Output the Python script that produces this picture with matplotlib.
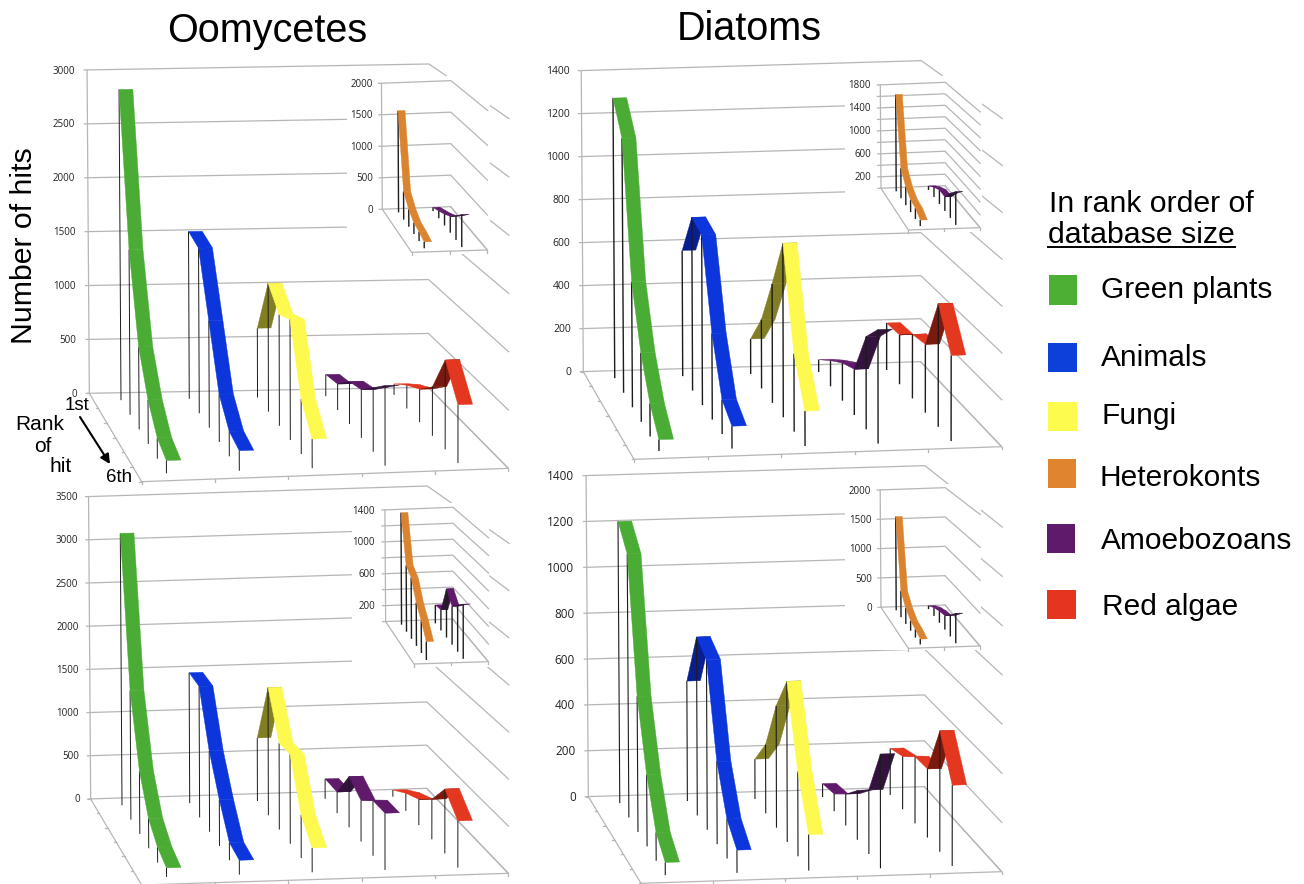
import matplotlib
matplotlib.use('Agg')
import matplotlib.pyplot as plt
from matplotlib.patches import Polygon, Rectangle

plt.rcParams['font.family'] = ['Liberation Sans', 'DejaVu Sans']

ranks = [0.5, 1.5, 2.5, 3.5, 4.5, 5.5]

# top left, oomycetes
a_green = [2863, 1501, 739, 390, 181, 110]
a_blue = [1542, 1501, 958, 423, 219, 173]
a_yellow = [639, 1167, 997, 1067, 481, 251]
a_purple = [200, 237, 380, 426, 560, 692]
a_red = [101, 212, 296, 434, 782, 504]
a_inset_orange = [1599, 433, 263, 164, 137, 92]
a_inset_purple = [58, 113, 172, 244, 353, 472]

# top right, diatoms
b_green = [1293, 1157, 562, 305, 144, 49]
b_blue = [580, 788, 762, 381, 150, 96]
b_yellow = [162, 314, 534, 769, 340, 150]
b_purple = [57, 117, 169, 202, 404, 490]
b_red = [217, 224, 287, 302, 537, 368]
b_inset_orange = [1668, 507, 304, 201, 176, 94]
b_inset_purple = [69, 163, 232, 228, 394, 523]

# bottom left, oomycetes
c_green = [3124, 1461, 700, 326, 166, 96]
c_blue = [1499, 1484, 901, 510, 192, 153]
c_yellow = [724, 1446, 964, 983, 467, 260]
c_purple = [230, 238, 566, 451, 597, 606]
c_red = [77, 200, 287, 440, 698, 499]
c_inset_orange = [1391, 809, 731, 511, 371, 209]
c_inset_purple = [228, 252, 583, 452, 541, 623]

# bottom right, diatoms
d_green = [1221, 1128, 574, 300, 117, 52]
d_blue = [520, 764, 720, 346, 163, 93]
d_yellow = [173, 295, 516, 672, 351, 147]
d_purple = [58, 74, 133, 206, 266, 467]
d_red = [202, 226, 282, 287, 500, 330]
d_inset_orange = [1580, 430, 260, 159, 130, 82]
d_inset_purple = [56, 138, 189, 223, 334, 461]

legend_names = ['Green plants', 'Animals', 'Fungi', 'Heterokonts', 'Amoebozoans', 'Red algae']

GREEN = ('#4aac34', '#4aac34')
BLUE = ('#0c36dc', '#0a1f8f')
YELLOW = ('#fdf94e', '#827e24')
ORANGE = ('#db832f', '#8a5020')
PURPLE = ('#5f1a6b', '#33123d')
RED = ('#e4371f', '#7a1a0e')

main_colors = [GREEN, BLUE, YELLOW, PURPLE, RED]
inset_colors = [ORANGE, PURPLE]
legend_colors = ['#4bb034', '#0d3fd9', '#fdfb4e', '#e08430', '#5f1a6b', '#e6351f']
GRID = '#b6b6b6'


def lerp(p, q, t):
    return (p[0] + (q[0] - p[0]) * t, p[1] + (q[1] - p[1]) * t)


def make_projection(corners, off, height, vmax, nu):
    bl, br, fl, fr = [(off[0] + c[0] / 3, off[1] + c[1] / 3) for c in corners]
    k0 = height / 3 / vmax
    grow = (fr[0] - fl[0]) / (br[0] - bl[0]) - 1

    def proj(u, d, v):
        s = u / nu
        t = d / 6
        x, y = lerp(lerp(bl, br, s), lerp(fl, fr, s), t)
        h = v * k0 * (1 + grow * t)
        tilt = -0.007 + 0.009 * s
        return (x + tilt * h, y - h)
    return proj


def draw_chart(ax, corners, off, height, vmax, series, colors, nu, grid_vals, label_vals,
               label_gap, fs, line_lw, side_ticks=True):
    proj = make_projection(corners, off, height, vmax, nu)

    for v in grid_vals:
        p0 = proj(0, 0, v)
        p1 = proj(nu, 0, v)
        p2 = proj(nu, 6, v)
        ax.plot([p0[0] - 3, p1[0], p2[0]], [p0[1], p1[1], p2[1]], color=GRID, lw=0.9, zorder=1)
    # floor and left axis
    fl = [proj(0, 0, 0), proj(0, 6, 0), proj(nu, 6, 0), proj(nu, 0, 0)]
    ax.plot([p[0] for p in fl], [p[1] for p in fl], color=GRID, lw=0.9, zorder=1)
    top = proj(0, 0, grid_vals[-1])
    ax.plot([fl[0][0], top[0]], [fl[0][1], top[1]], color=GRID, lw=0.9, zorder=1)
    for u in range(nu + 1):
        a = proj(u, 6, 0)
        ax.plot([a[0], a[0]], [a[1], a[1] + 2.5], color=GRID, lw=0.9, zorder=1)
    if side_ticks:
        for d in range(7):
            a = proj(0, d, 0)
            ax.plot([a[0] - 2.5, a[0]], [a[1], a[1]], color=GRID, lw=0.9, zorder=1)

    for v in label_vals:
        x, y = proj(0, 0, v)
        ax.text(x - label_gap, y + 1, str(v), ha='right', va='center', fontsize=fs,
                family='Open Sans', color='#222222', zorder=6)

    z = 2
    for i, vals in enumerate(series):
        u0 = i + 0.4
        u1 = i + 0.6
        for r, d in enumerate(ranks):
            top_l = proj(u0, d, vals[r])
            base = proj(u0, d, 0)
            ax.plot([top_l[0], base[0]], [top_l[1], base[1]], color='#1c1c1c', lw=line_lw, zorder=z,
                    solid_capstyle='butt')
            z += 0.001
            if r < 5:
                nxt = proj(u0, ranks[r + 1], vals[r + 1])
                pts = [top_l, proj(u1, d, vals[r]), proj(u1, ranks[r + 1], vals[r + 1]), nxt]
                col = colors[i][1] if nxt[1] < top_l[1] else colors[i][0]
                ax.add_patch(Polygon(pts, closed=True, facecolor=col, edgecolor=col, lw=0.3, zorder=z))
                z += 0.001


fig = plt.figure(figsize=(13.04, 8.84), dpi=100)
ax = fig.add_axes([0, 0, 1, 1])
ax.set_xlim(0, 1304)
ax.set_ylim(884, 0)
ax.axis('off')


def panel(off, corners, height, vmax, step, series, fs, lw, gap, mask,
          in_corners, in_height, in_vmax, in_step, in_labels, in_series, in_gap, in_fs):
    grid_vals = list(range(0, vmax + 1, step))
    draw_chart(ax, corners, off, height, vmax, series, main_colors, 5, grid_vals, grid_vals, gap, fs, lw)
    # the inset sits on a white box that hides the main grid
    ax.add_patch(Rectangle((off[0] + mask[0] / 3, off[1] + mask[1] / 3), (mask[2] - mask[0]) / 3,
                           (mask[3] - mask[1]) / 3, facecolor='white', edgecolor='none', zorder=4))
    ins = fig.add_axes([0, 0, 1, 1], sharex=ax, sharey=ax)
    ins.axis('off')
    ins.patch.set_alpha(0)
    draw_chart(ins, in_corners, off, in_height, in_vmax, in_series, inset_colors, 2,
               list(range(0, in_vmax + 1, in_step)), in_labels, in_gap, in_fs, 1.0, side_ticks=False)


panel((40, 50), [(148, 1030), (1165, 1012), (305, 1295), (1405, 1255)], 970, 3000, 500,
      [a_green, a_blue, a_yellow, a_purple, a_red], 7, 0.7, 12.5, (920, 78, 1350, 612),
      [(1027, 478), (1232, 470), (1115, 607), (1342, 600)], 378, 2000, 500,
      [0, 500, 1000, 1500, 2000], [a_inset_orange, a_inset_purple], 9, 7)

panel((530, 50), [(160, 965), (1172, 935), (312, 1228), (1415, 1190)], 903, 1400, 200,
      [b_green, b_blue, b_yellow, b_purple, b_red], 7.5, 1.0, 12, (945, 78, 1355, 545),
      [(1053, 415), (1245, 407), (1135, 540), (1350, 533)], 310, 1800, 200,
      [200, 600, 1000, 1400, 1800], [b_inset_orange, b_inset_purple], 10, 7)

panel((40, 480), [(152, 957), (1160, 925), (305, 1215), (1405, 1180)], 907, 3500, 500,
      [c_green, c_blue, c_yellow, c_purple, c_red], 7, 0.7, 11, (935, 70, 1348, 560),
      [(1037, 425), (1238, 417), (1122, 552), (1345, 545)], 335, 1400, 200,
      [200, 600, 1000, 1400], [c_inset_orange, c_inset_purple], 10, 7)

panel((530, 465), [(175, 995), (1183, 965), (333, 1255), (1415, 1220)], 963, 1400, 200,
      [d_green, d_blue, d_yellow, d_purple, d_red], 8.5, 0.8, 12.5, (945, 57, 1352, 556),
      [(1053, 427), (1245, 420), (1135, 550), (1350, 543)], 352, 2000, 500,
      [0, 500, 1000, 1500, 2000], [d_inset_orange, d_inset_purple], 9, 7)

tx = fig.add_axes([0, 0, 1, 1], sharex=ax, sharey=ax)
tx.axis('off')
tx.patch.set_alpha(0)

tx.text(267, 41.5, 'Oomycetes', ha='center', va='baseline', fontsize=28.5)
tx.text(749.5, 40, 'Diatoms', ha='center', va='baseline', fontsize=28.5)
tx.text(24, 246, 'Number of hits', rotation=90, ha='center', va='center', fontsize=21.8)

tx.text(77, 406, '1st', ha='center', va='center', fontsize=13.5)
tx.text(40, 425, 'Rank', ha='center', va='center', fontsize=15)
tx.text(43, 447, 'of', ha='center', va='center', fontsize=15)
tx.text(61, 466, 'hit', ha='center', va='center', fontsize=15)
tx.text(119, 477, '6th', ha='center', va='center', fontsize=13.5)
tx.annotate('', xy=(110, 464), xytext=(80, 417),
            arrowprops=dict(arrowstyle='-|>', color='black', lw=1.5, mutation_scale=14, shrinkA=0, shrinkB=0))

tx.text(1049, 211.5, 'In rank order of', ha='left', va='baseline', fontsize=21.8)
tx.text(1048, 243, 'database size', ha='left', va='baseline', fontsize=21.8)
tx.plot([1048, 1235], [247, 247], color='black', lw=1.4)

legend_sq = [(1049, 275, 28, 30), (1048, 343, 29, 29), (1048, 402, 29, 29),
             (1048, 459, 28, 29), (1047, 524, 28, 29), (1047, 590, 29, 29)]
legend_base = [298, 366.5, 424, 485.5, 549, 615]
legend_tx = [1101, 1100.5, 1101.5, 1099.5, 1100.5, 1101.5]
for name, col, sq, y, x in zip(legend_names, legend_colors, legend_sq, legend_base, legend_tx):
    tx.add_patch(Rectangle((sq[0], sq[1]), sq[2], sq[3], facecolor=col, edgecolor='none'))
    tx.text(x, y, name, ha='left', va='baseline', fontsize=21.5)

fig.savefig('out.png', dpi=100)
